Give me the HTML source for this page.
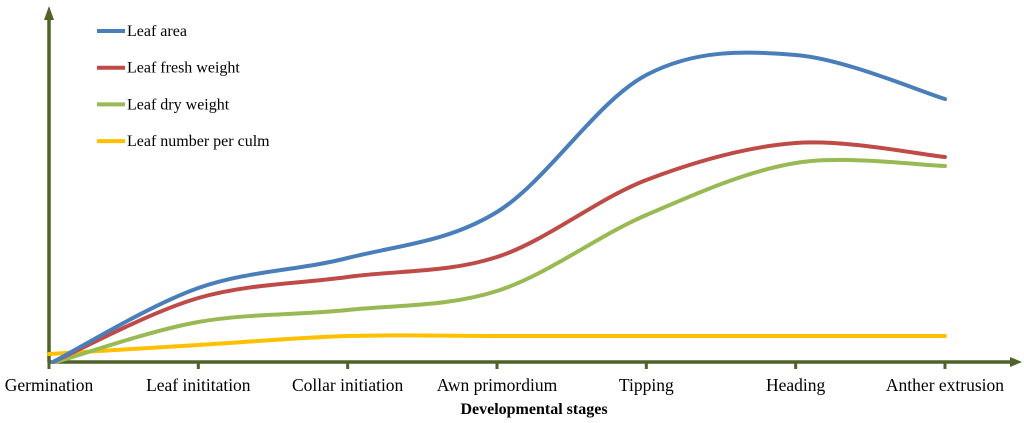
<!DOCTYPE html>
<html><head><meta charset="utf-8"><style>
html,body{margin:0;padding:0;background:#fff;}
svg{display:block;font-family:"Liberation Serif",serif;}
</style></head><body>
<svg id="chart" width="1024" height="423" viewBox="0 0 1024 423" xmlns="http://www.w3.org/2000/svg">
<g id="axes"></g>
<g id="series"></g>
<g id="legend"></g>
</svg>
<script>
const categories = ["Germination","Leaf inititation","Collar initiation","Awn primordium","Tipping","Heading","Anther extrusion"];
const leafArea = [0,74,104,150,287,307,263];
const leafFresh = [0,64,85,105,182,219,205];
const leafDry = [0,40,52,71,147,199,196];
const leafNumber = [8,17,26,26,26,26,26];
const seriesNames = ["Leaf area","Leaf fresh weight","Leaf dry weight","Leaf number per culm"];

const NS="http://www.w3.org/2000/svg";
const x0=49, dx=149.33, base=362;
const xs=i=>x0+i*dx;
const ys=v=>base-v;
const axes=document.getElementById('axes'), sg=document.getElementById('series'), lg=document.getElementById('legend');
function mk(tag,attrs,parent){const e=document.createElementNS(NS,tag);for(const k in attrs)e.setAttribute(k,attrs[k]);parent.appendChild(e);return e;}
const axc="#4f6228";
let e=mk('line',{x1:x0,y1:base,x2:x0,y2:18,stroke:axc,'stroke-width':3.5},axes);


e=mk('polygon',{points:`${x0-5},20 ${x0+5},20 ${x0},6`,fill:axc},axes);


e=mk('line',{x1:x0,y1:base,x2:1012,y2:base,stroke:axc,'stroke-width':3.5},axes);


e=mk('polygon',{points:`1010,${base-5} 1010,${base+5} 1022,${base}`,fill:axc},axes);


categories.forEach((c,i)=>{
  let t=mk('line',{x1:xs(i),y1:base,x2:xs(i),y2:base+7,stroke:axc,'stroke-width':3},axes);
  
  
  let l=mk('text',{x:xs(i),y:391,'text-anchor':'middle','font-size':17.5,fill:'#000'},axes);
  l.textContent=c;
  
  
});
e=mk('text',{x:534,y:414,'text-anchor':'middle','font-size':16,'font-weight':'bold'},axes);
e.textContent="Developmental stages";



function smooth(vals,startX){
  const p=vals.map((v,i)=>[xs(i),ys(v)]);
  if(startX!==undefined)p[0][0]=startX;
  let d=`M${p[0][0]},${p[0][1]}`;
  for(let i=0;i<p.length-1;i++){
    const a=p[Math.max(0,i-1)],b=p[i],c=p[i+1],n=p[Math.min(p.length-1,i+2)];
    const t=1/6;
    d+=` C${b[0]+(c[0]-a[0])*t},${b[1]+(c[1]-a[1])*t} ${c[0]-(n[0]-b[0])*t},${c[1]-(n[1]-b[1])*t} ${c[0]},${c[1]}`;
  }
  return d;
}
const data=[leafArea,leafFresh,leafDry,leafNumber];
const colors=["#4a7ebb","#be4b48","#98b954","#ffc000"];
const names=["series-leaf-area","series-leaf-fresh-weight","series-leaf-dry-weight","series-leaf-number"];
const starts=[53,53,56,undefined];
[3,2,1,0].forEach(k=>{
  let p=mk('path',{d:smooth(data[k],starts[k]),fill:'none',stroke:colors[k],'stroke-width':4,'stroke-linecap':'round'},sg);
  
  
});
seriesNames.forEach((n,k)=>{
  const y=31+k*36.7;
  let g=mk('g',{},lg);
  
  
  mk('line',{x1:97,y1:y,x2:125,y2:y,stroke:colors[k],'stroke-width':4},g);
  let t=mk('text',{x:127,y:y+5,'font-size':16},g);
  t.textContent=n;
});
</script>
</body></html>
